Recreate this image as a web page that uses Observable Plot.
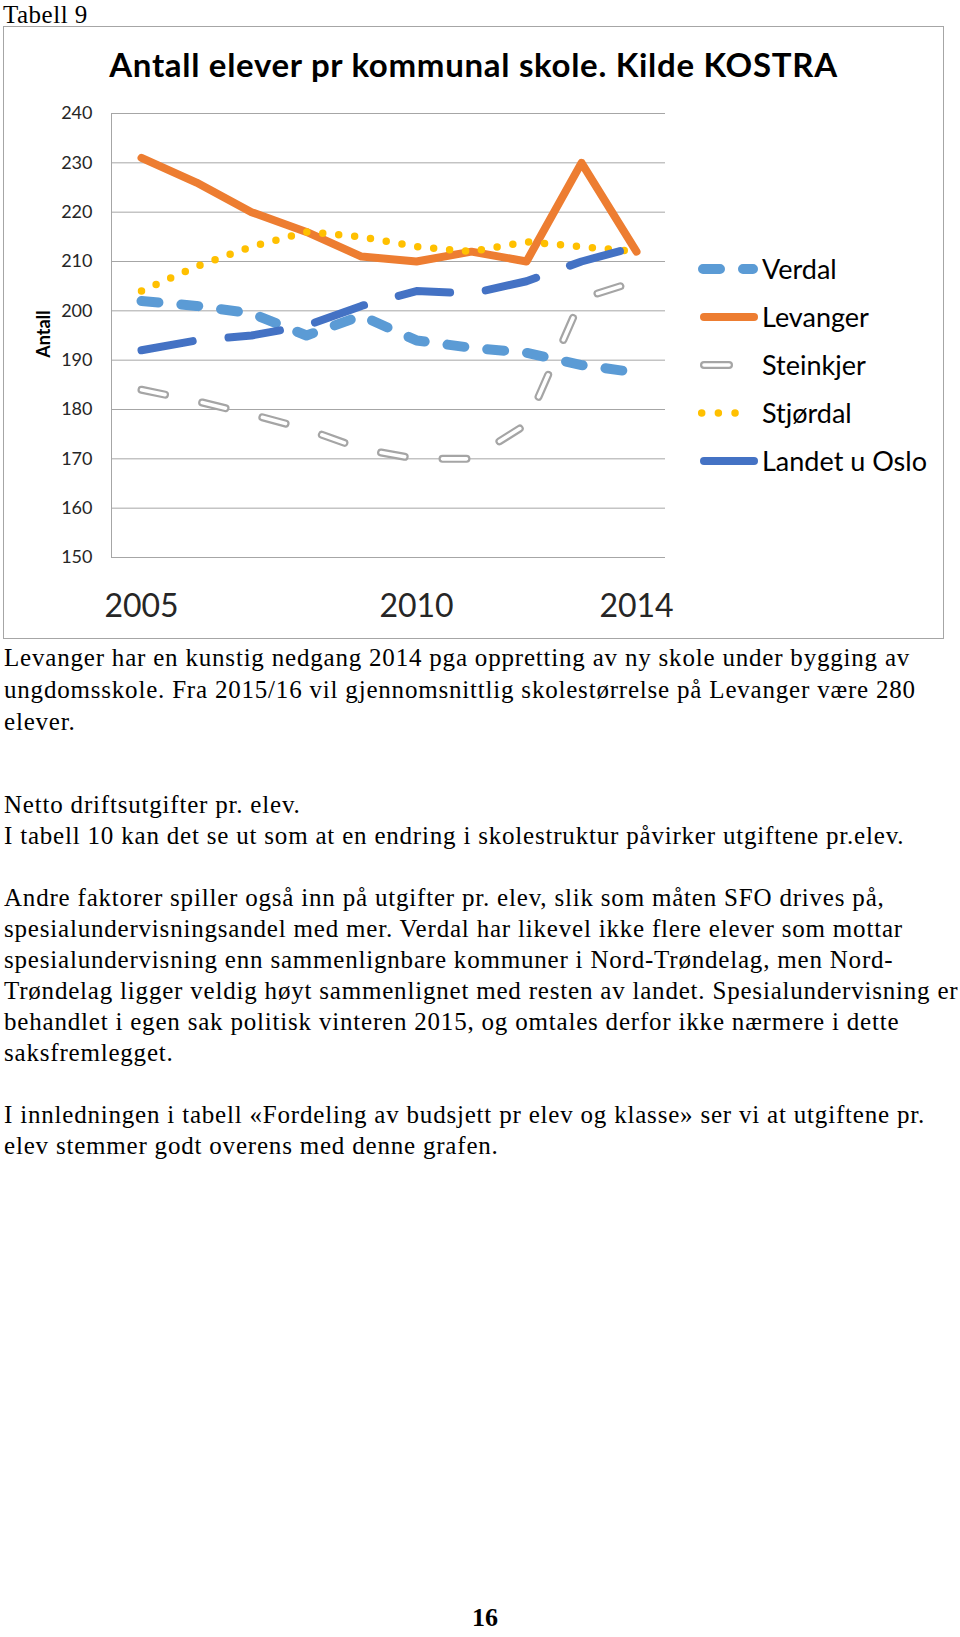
<!DOCTYPE html>
<html><head><meta charset="utf-8">
<script src="https://cdn.jsdelivr.net/npm/d3@7"></script>
<script src="https://cdn.jsdelivr.net/npm/@observablehq/plot@0.6"></script>
<style>
body{margin:0;background:#fff;}
#page{position:relative;width:960px;height:1637px;overflow:hidden;font-family:"Liberation Serif","Times New Roman",serif;color:#000;background:#fff;}
.ln{position:absolute;left:4px;white-space:nowrap;line-height:0;font-size:25px;letter-spacing:0.8px;}
#box{position:absolute;left:3px;top:26px;width:941px;height:613px;border:1px solid #a6a6a6;box-sizing:border-box;}
#plotwrap{position:absolute;left:0;top:0;}
#title{position:absolute;left:0;width:100%;text-align:center;top:37px;line-height:0;font-family:Lato,sans-serif;font-weight:bold;font-size:33px;letter-spacing:0.7px;color:#000;white-space:nowrap;}
#ylab{position:absolute;left:39px;top:307px;line-height:1;font-family:Lato,sans-serif;font-weight:bold;font-size:18px;color:#000;transform:translate(-50%,-50%) rotate(-90deg);white-space:nowrap;}
.leg{position:absolute;left:692px;height:20px;}
.leg svg{position:absolute;left:0;top:-10px;overflow:visible;}
.leg span{position:absolute;left:66px;top:0;line-height:0;font-family:Lato,sans-serif;font-size:27px;color:#000;white-space:nowrap;}
</style>
</head><body>
<div id="page">
  <div class="ln" style="top:2px;font-size:25px;line-height:25px;letter-spacing:0.5px;left:3px">Tabell 9</div>
  <div id="box">
    <div id="plotwrap"></div>
    <div id="title">Antall elever pr kommunal skole. Kilde KOSTRA</div>
    <div id="ylab">Antall</div>
    <div id="legend"></div>
  </div>
  <div id="body"></div>
  <div class="ln" style="top:1604px;left:472px;font-weight:bold;font-size:26px;line-height:28px;letter-spacing:0">16</div>
</div>
<script>
// ---- data ----
const years = [2005, 2006, 2007, 2008, 2009, 2010, 2011, 2012, 2013, 2014];
const verdal    = [202, 201, 199.5, 195, 199, 194, 192.5, 191.5, 189, 187.5];
const levanger  = [231, 226, 220, 216, 211, 210, 212, 210, 230, 212];
const steinkjer = [184, 181.7, 179, 176, 172, 170, 170, 177, 202.5, 206];
const stjordal  = [204, 209, 213, 216, 215, 213, 212, 214, 213, 212];
const landet    = [192, 194, 195, 197, 201, 204, 203.5, 206, 210, 213];
const seriesNames = ["Verdal", "Levanger", "Steinkjer", "Stjørdal", "Landet u Oslo"];
const yTicks = [150, 160, 170, 180, 190, 200, 210, 220, 230, 240];
const xTickLabels = [2005, 2010, 2014];

const bodyLines = [
  ["Levanger har en kunstig nedgang 2014 pga oppretting av ny skole under bygging av", 666],
  ["ungdomsskole. Fra 2015/16 vil gjennomsnittlig skolestørrelse på Levanger være 280", 698],
  ["elever.", 730],
  ["Netto driftsutgifter pr. elev.", 813],
  ["I tabell 10 kan det se ut som at en endring i skolestruktur påvirker utgiftene pr.elev.", 844],
  ["Andre faktorer spiller også inn på utgifter pr. elev, slik som måten SFO drives på,", 906],
  ["spesialundervisningsandel med mer. Verdal har likevel ikke flere elever som mottar", 937],
  ["spesialundervisning enn sammenlignbare kommuner i Nord-Trøndelag, men Nord-", 968],
  ["Trøndelag ligger veldig høyt sammenlignet med resten av landet. Spesialundervisning er", 999],
  ["behandlet i egen sak politisk vinteren 2015, og omtales derfor ikke nærmere i dette", 1030],
  ["saksfremlegget.", 1061],
  ["I innledningen i tabell «Fordeling av budsjett pr elev og klasse» ser vi at utgiftene pr.", 1123],
  ["elev stemmer godt overens med denne grafen.", 1154]
];

// ---- body text ----
const body = document.getElementById("body");
for (const [t, base] of bodyLines) {
  const d = document.createElement("div");
  d.className = "ln";
  d.style.top = (base - 0.3375 * 25) + "px";
  d.textContent = t;
  body.appendChild(d);
}

// ---- chart ----
const rows = vals => years.map((year, i) => ({year, value: vals[i]}));
const common = {x: "year", y: "value", strokeLinecap: "round", strokeLinejoin: "round"};

const chart = Plot.plot({
  width: 938,
  height: 610,
  marginLeft: 107,
  marginRight: 277,
  marginTop: 86,
  marginBottom: 80,
  x: {type: "point", domain: years, padding: 0.5},
  y: {domain: [150, 240]},
  style: {fontFamily: "Lato, sans-serif", color: "#262626", background: "transparent", overflow: "visible"},
  marks: [
    Plot.gridY({ticks: yTicks, stroke: "#a6a6a6", strokeOpacity: 1, strokeWidth: 1}),
    Plot.frame({anchor: "left", stroke: "#a6a6a6", strokeOpacity: 1}),
    Plot.axisY({ticks: yTicks, tickSize: 0, tickPadding: 19, fontSize: 18, label: null, tickFormat: d => String(d)}),
    Plot.axisX({ticks: xTickLabels, tickSize: 0, tickPadding: 37, fontSize: 32, label: null, tickFormat: d => String(d)}),
    Plot.line(rows(verdal), {...common, stroke: "#5b9bd5", strokeWidth: 10, strokeDasharray: "17 23"}),
    Plot.line(rows(levanger), {...common, stroke: "#ed7d31", strokeWidth: 8}),
    Plot.line(rows(steinkjer), {...common, stroke: "#a5a5a5", strokeWidth: 8, strokeDasharray: "24 38"}),
    Plot.line(rows(steinkjer), {...common, stroke: "#ffffff", strokeWidth: 3.6, strokeDasharray: "24 38"}),
    Plot.line(rows(stjordal), {...common, stroke: "#ffc000", strokeWidth: 7.5, strokeDasharray: "0 16"}),
    Plot.line(rows(landet), {...common, stroke: "#4472c4", strokeWidth: 8, strokeDasharray: "52 36"})
  ]
});
document.getElementById("plotwrap").appendChild(chart);

// ---- legend ----
const swatches = {
  "Verdal": `<line x1="7" y1="10" x2="57" y2="10" stroke="#5b9bd5" stroke-width="10" stroke-linecap="round" stroke-dasharray="17 23"/>`,
  "Levanger": `<line x1="8" y1="10" x2="58" y2="10" stroke="#ed7d31" stroke-width="8" stroke-linecap="round"/>`,
  "Steinkjer": `<line x1="8" y1="10" x2="33" y2="10" stroke="#a5a5a5" stroke-width="8" stroke-linecap="round"/><line x1="8" y1="10" x2="33" y2="10" stroke="#fff" stroke-width="3.6" stroke-linecap="round"/>`,
  "Stjørdal": `<line x1="5.7" y1="10" x2="55.7" y2="10" stroke="#ffc000" stroke-width="7.5" stroke-linecap="round" stroke-dasharray="0 16.67"/>`,
  "Landet u Oslo": `<line x1="8" y1="10" x2="58" y2="10" stroke="#4472c4" stroke-width="8" stroke-linecap="round"/>`
};
const legend = document.getElementById("legend");
seriesNames.forEach((name, i) => {
  const row = document.createElement("div");
  row.className = "leg";
  row.style.top = (242 + i * 48) + "px";
  row.innerHTML = `<svg width="70" height="20">${swatches[name]}</svg><span>${name}</span>`;
  legend.appendChild(row);
});
</script>
</body></html>
